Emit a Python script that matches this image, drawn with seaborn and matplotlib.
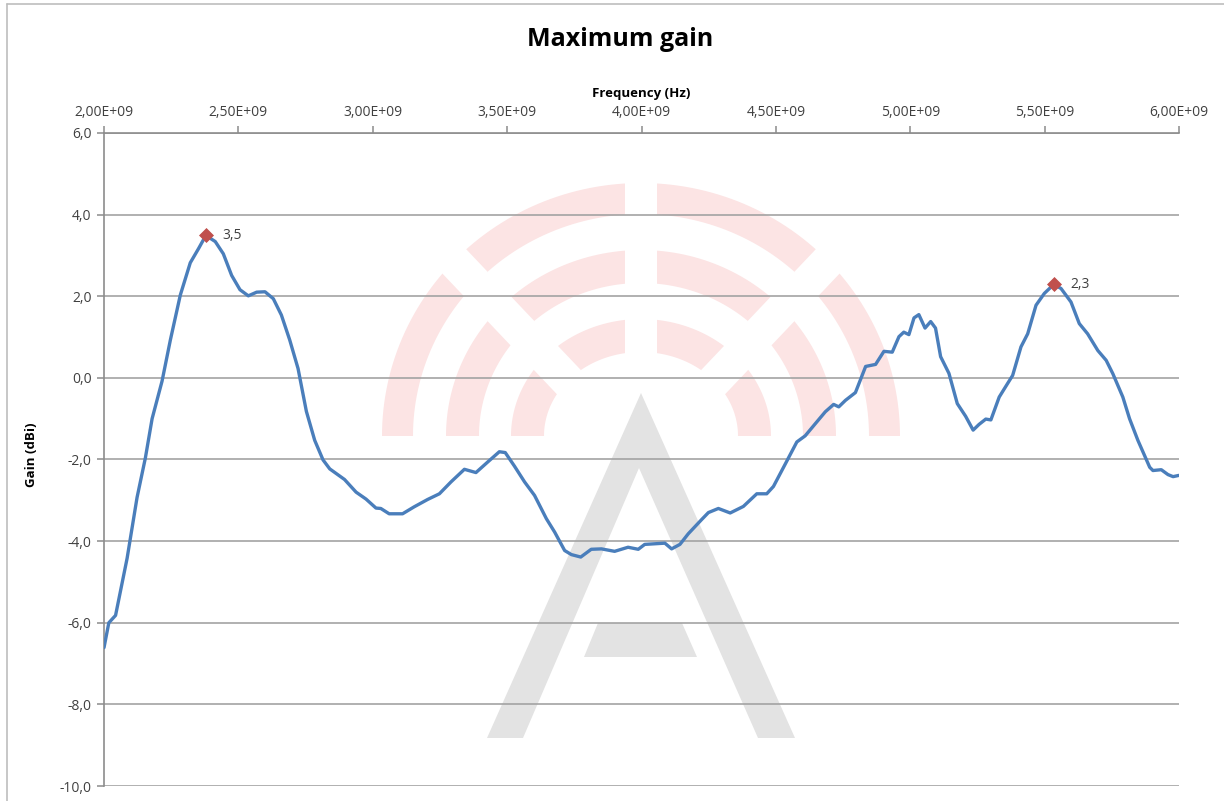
import numpy as np
import pandas as pd
import matplotlib
matplotlib.use("Agg")
import matplotlib.pyplot as plt
import seaborn as sns
from matplotlib.patches import Polygon
from matplotlib.lines import Line2D
from matplotlib.ticker import FuncFormatter

# ---------------- data ----------------
freq_ghz = [2.000, 2.018, 2.043, 2.086, 2.123, 2.154, 2.179, 2.216, 2.247, 2.284,
            2.321, 2.352, 2.379, 2.414, 2.444, 2.475, 2.506, 2.537, 2.568, 2.599,
            2.630, 2.660, 2.691, 2.722, 2.753, 2.784, 2.815, 2.840, 2.895, 2.938,
            2.975, 3.012, 3.030, 3.061, 3.111, 3.154, 3.204, 3.248, 3.291, 3.341,
            3.384, 3.428, 3.471, 3.493, 3.527, 3.565, 3.602, 3.646, 3.677, 3.714,
            3.739, 3.774, 3.813, 3.851, 3.900, 3.950, 3.988, 4.012, 4.087, 4.112,
            4.143, 4.174, 4.224, 4.249, 4.286, 4.330, 4.379, 4.429, 4.466, 4.491,
            4.535, 4.578, 4.609, 4.647, 4.684, 4.715, 4.734, 4.759, 4.796, 4.834,
            4.871, 4.902, 4.933, 4.958, 4.976, 4.995, 5.014, 5.032, 5.055, 5.076,
            5.094, 5.113, 5.144, 5.175, 5.206, 5.234, 5.256, 5.281, 5.300, 5.331,
            5.362, 5.381, 5.412, 5.437, 5.468, 5.499, 5.534, 5.561, 5.598, 5.629,
            5.660, 5.698, 5.729, 5.754, 5.791, 5.816, 5.847, 5.891, 5.903, 5.934,
            5.959, 5.978, 5.999]
gain_dbi = [-6.61, -6.00, -5.82, -4.42, -2.93, -1.96, -1.00, -0.08, 0.93, 2.03,
            2.82, 3.17, 3.49, 3.34, 3.04, 2.51, 2.16, 2.01, 2.10, 2.11,
            1.94, 1.54, 0.93, 0.23, -0.82, -1.53, -2.01, -2.23, -2.49, -2.80,
            -2.97, -3.19, -3.20, -3.33, -3.33, -3.16, -2.98, -2.84, -2.55, -2.24,
            -2.32, -2.06, -1.81, -1.83, -2.16, -2.55, -2.88, -3.45, -3.78, -4.23,
            -4.33, -4.39, -4.20, -4.19, -4.25, -4.15, -4.20, -4.08, -4.05, -4.19,
            -4.08, -3.82, -3.47, -3.30, -3.20, -3.31, -3.15, -2.84, -2.84, -2.66,
            -2.11, -1.57, -1.42, -1.12, -0.83, -0.65, -0.71, -0.55, -0.36, 0.28,
            0.33, 0.65, 0.63, 1.01, 1.12, 1.06, 1.47, 1.55, 1.22, 1.38,
            1.22, 0.52, 0.11, -0.63, -0.94, -1.28, -1.14, -1.01, -1.03, -0.47,
            -0.14, 0.06, 0.76, 1.08, 1.78, 2.07, 2.29, 2.19, 1.86, 1.33,
            1.08, 0.67, 0.43, 0.10, -0.47, -1.00, -1.53, -2.19, -2.27, -2.25,
            -2.37, -2.42, -2.39]
peak_freq_ghz = [2.379, 5.534]
peak_gain = [3.5, 2.3]
peak_labels = ["3,5", "2,3"]
x_ticks_hz = [2.0e9, 2.5e9, 3.0e9, 3.5e9, 4.0e9, 4.5e9, 5.0e9, 5.5e9, 6.0e9]
y_ticks = [-10, -8, -6, -4, -2, 0, 2, 4, 6]
title = "Maximum gain"
x_label = "Frequency (Hz)"
y_label = "Gain (dBi)"

# ---------------- figure ----------------
W, H = 1224, 801
sns.set_theme(style="white")
plt.rcParams["font.family"] = ["Open Sans", "DejaVu Sans"]

fig = plt.figure(figsize=(W / 100, H / 100), dpi=100)
fig.patch.set_facecolor("white")
L, R, T, B = 104, 1179, 133, 786
ax = fig.add_axes([L / W, 1 - B / H, (R - L) / W, (B - T) / H])
ax.set_facecolor("white")

def P(px, py):
    return (px / W, 1 - py / H)

# ------------- watermark (decoration) -------------
pink = "#FCE4E4"
grey = "#E3E3E3"
cx, cy = 641, 436
rings = [((259, 253), (228, 222)), ((195, 186), (162, 153)), ((130, 117), (97, 84))]
ang = np.linspace(0, np.pi, 120)
for (rox, roy), (rix, riy) in rings:
    outer = [P(cx + rox * np.cos(a), cy - roy * np.sin(a)) for a in ang]
    inner = [P(cx + rix * np.cos(a), cy - riy * np.sin(a)) for a in ang[::-1]]
    ax.add_patch(Polygon(outer + inner, closed=True, transform=fig.transFigure,
                         facecolor=pink, edgecolor="none", zorder=0.1))
# gaps in the rings
gw = 16
ax.add_patch(Polygon([P(cx - gw, cy + 2), P(cx + gw, cy + 2), P(cx + gw, cy - 270), P(cx - gw, cy - 270)],
                     closed=True, transform=fig.transFigure, facecolor="white", edgecolor="none", zorder=0.2))
th = np.deg2rad(46.5)
for sgn in (-1, 1):
    ox = cx + sgn * 21
    dx, dy = sgn * np.cos(th), -np.sin(th)
    nx, ny = -dy, dx
    ln = 300
    pts = [P(ox + nx * 17, cy + ny * 17), P(ox - nx * 17, cy - ny * 17),
           P(ox - nx * 17 + dx * ln, cy - ny * 17 + dy * ln), P(ox + nx * 17 + dx * ln, cy + ny * 17 + dy * ln)]
    ax.add_patch(Polygon(pts, closed=True, transform=fig.transFigure,
                         facecolor="white", edgecolor="none", zorder=0.2))
# the "A": a chevron with a floating trapezoid cross bar
chevron = [P(487, 738), P(641, 393), P(795, 738), P(758, 738), P(639, 468), P(523, 738)]
ax.add_patch(Polygon(chevron, closed=True, transform=fig.transFigure,
                     facecolor=grey, edgecolor="none", zorder=0.3))
crossbar = [P(598, 623), P(682, 623), P(697, 657), P(584, 657)]
ax.add_patch(Polygon(crossbar, closed=True, transform=fig.transFigure,
                     facecolor=grey, edgecolor="none", zorder=0.3))

# ------------- data marks -------------
df = pd.DataFrame({"freq": np.array(freq_ghz) * 1e9, "gain": gain_dbi})
sns.lineplot(data=df, x="freq", y="gain", ax=ax, color="#4A7EBB", linewidth=2.4,
             sort=False, estimator=None, zorder=3)
pk = pd.DataFrame({"freq": np.array(peak_freq_ghz) * 1e9, "gain": peak_gain})
sns.scatterplot(data=pk, x="freq", y="gain", ax=ax, marker="D", s=50,
                color="#C0504D", edgecolor="#C0504D", zorder=4)
for f, g, lab in zip(pk["freq"], pk["gain"], peak_labels):
    ax.annotate(lab, (f, g), xytext=(12, 0), textcoords="offset points",
                ha="left", va="center", fontsize=10, color="#404040")

# ------------- axes -------------
ax.set_xlim(2.0e9, 6.0e9)
ax.set_ylim(-10, 6)
ax.set_xticks(x_ticks_hz)
ax.set_yticks(y_ticks)
ax.xaxis.set_major_formatter(FuncFormatter(lambda v, p: f"{v:.2E}".replace(".", ",")))
ax.yaxis.set_major_formatter(FuncFormatter(lambda v, p: f"{v:.1f}".replace(".", ",")))
ax.xaxis.tick_top()
ax.xaxis.set_label_position("top")
ax.set_axisbelow(True)
ax.grid(axis="y", color="#A3A3A3", linewidth=1.2, zorder=0.5)
ax.grid(axis="x", visible=False)
for s in ["right", "bottom"]:
    ax.spines[s].set_visible(False)
for s in ["top", "left"]:
    ax.spines[s].set_color("#8C8C8C")
    ax.spines[s].set_linewidth(1.2)
ax.tick_params(axis="both", direction="out", length=5, width=1.1, color="#8C8C8C",
               labelsize=10, labelcolor="#404040", pad=4)
ax.tick_params(axis="x", top=True, bottom=False, labeltop=True, labelbottom=False)
ax.tick_params(axis="y", left=True)
ax.set_xlabel(x_label, fontsize=9.5, fontweight="bold", color="black", labelpad=6)
ax.set_ylabel(y_label, fontsize=9.5, fontweight="bold", color="black")
ax.yaxis.set_label_coords((38 - L) / (R - L), (B - 455) / (B - T))

fig.text(620 / W, 1 - 40 / H, title, ha="center", va="center",
         fontsize=18, fontweight="bold", color="black")

# chart area border
fig.add_artist(Line2D([7 / W, 7 / W], [0, 1 - 4 / H], color="#BDBDBD", linewidth=1.2))
fig.add_artist(Line2D([7 / W, 1], [1 - 4 / H, 1 - 4 / H], color="#BDBDBD", linewidth=1.2))

fig.savefig("out.png", dpi=100, facecolor="white")
